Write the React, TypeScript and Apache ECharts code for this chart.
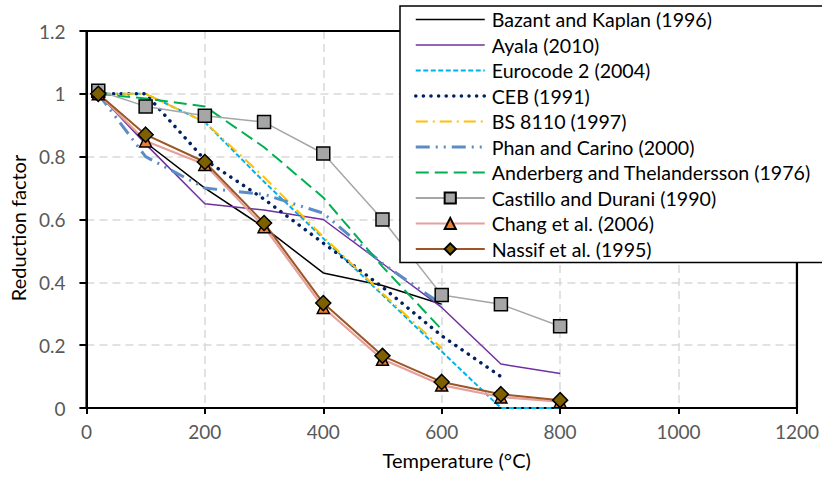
import React, { useEffect, useRef } from "react";
import * as echarts from "echarts";

const temps = [20, 100, 200, 300, 400, 500, 600, 700, 800];
const bazant = [1, 0.845, 0.7, 0.575, 0.43, 0.39, 0.33];
const ayala = [1, 0.84, 0.65, 0.63, 0.6, 0.46, 0.32, 0.14, 0.11];
const eurocode = [1, 1, 0.91, 0.72, 0.54, 0.36, 0.18, 0, 0];
const ceb = [1, 1, 0.79, 0.665, 0.525, 0.385, 0.23, 0.1];
const bs8110 = [1, 1, 0.91, 0.735, 0.545, 0.365, 0.19];
const phan = [1, 0.8, 0.7, 0.68, 0.62, 0.46, 0.33];
const anderberg = [1, 0.985, 0.96, 0.83, 0.67, 0.45, 0.25];
const castillo = [1.01, 0.96, 0.93, 0.91, 0.81, 0.6, 0.36, 0.33, 0.26];
const chang = [1, 0.85, 0.775, 0.577, 0.32, 0.155, 0.073, 0.035, 0.02];
const nassif = [1, 0.87, 0.783, 0.589, 0.334, 0.166, 0.083, 0.044, 0.025];

const xRange = [0, 1200];
const yRange = [0, 1.2];

const names = [
  "Bazant and Kaplan (1996)",
  "Ayala (2010)",
  "Eurocode 2 (2004)",
  "CEB (1991)",
  "BS 8110 (1997)",
  "Phan and Carino (2000)",
  "Anderberg and Thelandersson (1976)",
  "Castillo and Durani (1990)",
  "Chang et al. (2006)",
  "Nassif et al. (1995)",
];

const FONT = "Lato";

function pairs(vals: number[]) {
  return vals.map((v, i) => [temps[i], v]);
}

export default function App() {
  const ref = useRef<HTMLDivElement>(null);
  useEffect(() => {
    const chart = echarts.init(ref.current!, null, { renderer: "svg" });
    const lineSeries = (
      name: string,
      vals: number[],
      color: string,
      width: number,
      type: any,
      cap?: string
    ) => ({
      name,
      type: "line",
      data: pairs(vals),
      symbol: "none",
      lineStyle: { color, width, type, cap: cap || "butt" },
      itemStyle: { color },
      z: 2,
    });
    const styles: any[] = [
      { c: "#000000", w: 1.5, t: "solid" },
      { c: "#7030A0", w: 1.5, t: "solid" },
      { c: "#00B0F0", w: 2, t: [5, 2.5] },
      { c: "#002060", w: 3.5, t: [0.1, 7.5], cap: "round" },
      { c: "#FFC000", w: 2, t: [12, 5, 2, 5] },
      { c: "#5B8CC8", w: 3, t: [14, 6, 2, 6, 2, 6] },
      { c: "#00B050", w: 2, t: [13, 6] },
    ];
    const valsList = [bazant, ayala, eurocode, ceb, bs8110, phan, anderberg];
    const series: any[] = valsList.map((v, i) =>
      lineSeries(names[i], v, styles[i].c, styles[i].w, styles[i].t, styles[i].cap)
    );
    series.push({
      name: names[7],
      type: "line",
      data: pairs(castillo),
      symbol: "rect",
      symbolSize: 13,
      lineStyle: { color: "#A6A6A6", width: 1.5 },
      itemStyle: { color: "#A6A6A6", borderColor: "#000", borderWidth: 1.5 },
      z: 3,
    });
    series.push({
      name: names[8],
      type: "line",
      data: pairs(chang),
      symbol: "triangle",
      symbolSize: 12,
      lineStyle: { color: "#E6A09A", width: 2.2 },
      itemStyle: { color: "#ED7D31", borderColor: "#000", borderWidth: 1.5 },
      z: 3,
    });
    series.push({
      name: names[9],
      type: "line",
      data: pairs(nassif),
      symbol: "diamond",
      symbolSize: 15,
      lineStyle: { color: "#9C5524", width: 2 },
      itemStyle: { color: "#7F6000", borderColor: "#000", borderWidth: 1.5 },
      z: 3,
    });

    const legendData = names.map((n, i) =>
      i < 7
        ? { name: n, itemStyle: { opacity: 0 }, lineStyle: { width: styles[i].w } }
        : { name: n, lineStyle: { width: 2 } }
    );

    const split = {
      show: true,
      showMinLine: false,
      showMaxLine: false,
      lineStyle: { color: "#D9D9D9", width: 1.5, type: [8, 5] },
    };

    chart.setOption({
      animation: false,
      backgroundColor: "#fff",
      grid: {
        left: 85,
        top: 31,
        right: 24,
        bottom: 71,
        show: true,
        borderColor: "#000",
        borderWidth: 2,
        backgroundColor: "transparent",
      },
      legend: {
        data: legendData,
        orient: "vertical",
        left: 400,
        top: 6,
        z: 10,
        padding: [3.5, 14, 3.5, 14],
        itemGap: 5.5,
        itemWidth: 69,
        itemHeight: 14,
        selectedMode: false,
        backgroundColor: "#fff",
        borderColor: "#000",
        borderWidth: 1.5,
        textStyle: { fontFamily: FONT, fontSize: 19.6, color: "#000", lineHeight: 20, padding: [0, 0, 0, 2] },
      },
      xAxis: {
        type: "value",
        min: xRange[0],
        max: xRange[1],
        interval: 200,
        name: "Temperature (°C)",
        nameLocation: "middle",
        nameGap: 42,
        nameTextStyle: { fontFamily: FONT, fontSize: 20, color: "#000", padding: [0, 0, 0, 30] },
        axisLine: { onZero: false, lineStyle: { color: "#000", width: 2 } },
        axisTick: { show: true, length: 6, lineStyle: { color: "#000", width: 2 } },
        axisLabel: { fontFamily: FONT, fontSize: 19, color: "#595959", margin: 14, formatter: (v: number) => String(v) },
        splitLine: split,
      },
      yAxis: {
        type: "value",
        min: yRange[0],
        max: yRange[1],
        interval: 0.2,
        name: "Reduction factor",
        nameLocation: "middle",
        nameGap: 57,
        nameTextStyle: { fontFamily: FONT, fontSize: 20, color: "#000", padding: [0, 17, 0, 0] },
        axisLine: { onZero: false, lineStyle: { color: "#000", width: 2 } },
        axisTick: { show: true, length: 7, lineStyle: { color: "#000", width: 2 } },
        axisLabel: { fontFamily: FONT, fontSize: 19, color: "#595959", margin: 21, formatter: (v: number) => String(Math.round(v * 10) / 10) },
        splitLine: split,
      },
      series,
    });

    const tl = chart.convertToPixel({ gridIndex: 0 }, [xRange[0], yRange[1]]) as number[];
    const br = chart.convertToPixel({ gridIndex: 0 }, [xRange[1], yRange[0]]) as number[];
    if (tl && br && isFinite(tl[0]) && isFinite(br[0])) {
      chart.setOption({
        graphic: [
          {
            type: "polyline",
            z: 5,
            silent: true,
            shape: { points: [[tl[0], tl[1]], [br[0], tl[1]], [br[0], br[1]]] },
            style: { stroke: "#000000", lineWidth: 2.2, fill: "none" },
          },
        ],
      });
    }
    return () => chart.dispose();
  }, []);
  return (
    <div
      ref={ref}
      style={{ position: "fixed", left: 0, top: 0, width: 822, height: 479, background: "#fff" }}
    />
  );
}
